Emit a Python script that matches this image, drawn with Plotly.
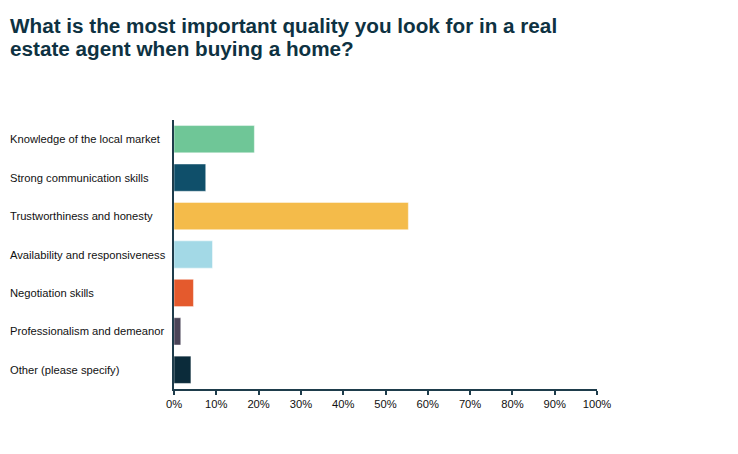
import plotly.graph_objects as go

categories = [
    "Knowledge of the local market",
    "Strong communication skills",
    "Trustworthiness and honesty",
    "Availability and responsiveness",
    "Negotiation skills",
    "Professionalism and demeanor",
    "Other (please specify)",
]
values = [19.0, 7.5, 55.4, 9.1, 4.6, 1.6, 4.0]
colors = ["#6fc697", "#0f4f6a", "#f4bb4a", "#a3d9e6", "#e45a2d", "#4a4458", "#0b2b3a"]
x_ticks = list(range(0, 101, 10))
x_tick_labels = [f"{t}%" for t in x_ticks]
title_lines = [
    "What is the most important quality you look for in a real",
    "estate agent when buying a home?",
]

axis_color = "#1e3c4b"
font_family = "Liberation Sans, Arial, sans-serif"

# page body adds ~8px offset, so size the figure a bit smaller
W, H = 730, 446
L, R, T, B = 166, 141, 112, 65
plot_w = W - L - R
plot_h = H - T - B


def px_x(x):
    return (x - L) / plot_w


def px_y(y):
    return (H - B - y) / plot_h


fig = go.Figure()
fig.add_trace(
    go.Bar(
        x=values,
        y=categories,
        orientation="h",
        marker=dict(color=colors, line=dict(color="rgba(255,255,255,0.45)", width=1)),
        hovertemplate="%{y}: %{x:.1f}%<extra></extra>",
    )
)

# left-aligned category labels
for cat in categories:
    fig.add_annotation(
        x=px_x(0), xref="paper", y=cat, yref="y",
        text=cat, showarrow=False, xanchor="left", yanchor="middle",
        font=dict(family=font_family, size=11.2, color="#111111"),
    )

# title, two lines
for i, line in enumerate(title_lines):
    fig.add_annotation(
        x=px_x(0), xref="paper", y=px_y(17.5 + 22.5 * i), yref="paper",
        text=f"<b>{line}</b>", showarrow=False, xanchor="left", yanchor="middle",
        font=dict(family=font_family, size=20.7, color="#0e3242"),
    )

fig.update_layout(
    width=W,
    height=H,
    margin=dict(l=L, r=R, t=T, b=B),
    paper_bgcolor="white",
    plot_bgcolor="white",
    bargap=0.29,
    showlegend=False,
    font=dict(family=font_family, size=11, color="#111111"),
)
fig.update_xaxes(
    range=[0, 100],
    tickvals=x_ticks,
    ticktext=x_tick_labels,
    showgrid=False,
    zeroline=False,
    showline=True,
    linecolor=axis_color,
    linewidth=2,
    ticks="outside",
    ticklen=4,
    tickwidth=1.5,
    tickcolor=axis_color,
    tickfont=dict(size=11.2, color="#111111"),
)
fig.update_yaxes(
    autorange="reversed",
    showticklabels=False,
    showgrid=False,
    zeroline=False,
    showline=True,
    linecolor=axis_color,
    linewidth=2,
    ticks="",
)

fig.write_html("out.html")
